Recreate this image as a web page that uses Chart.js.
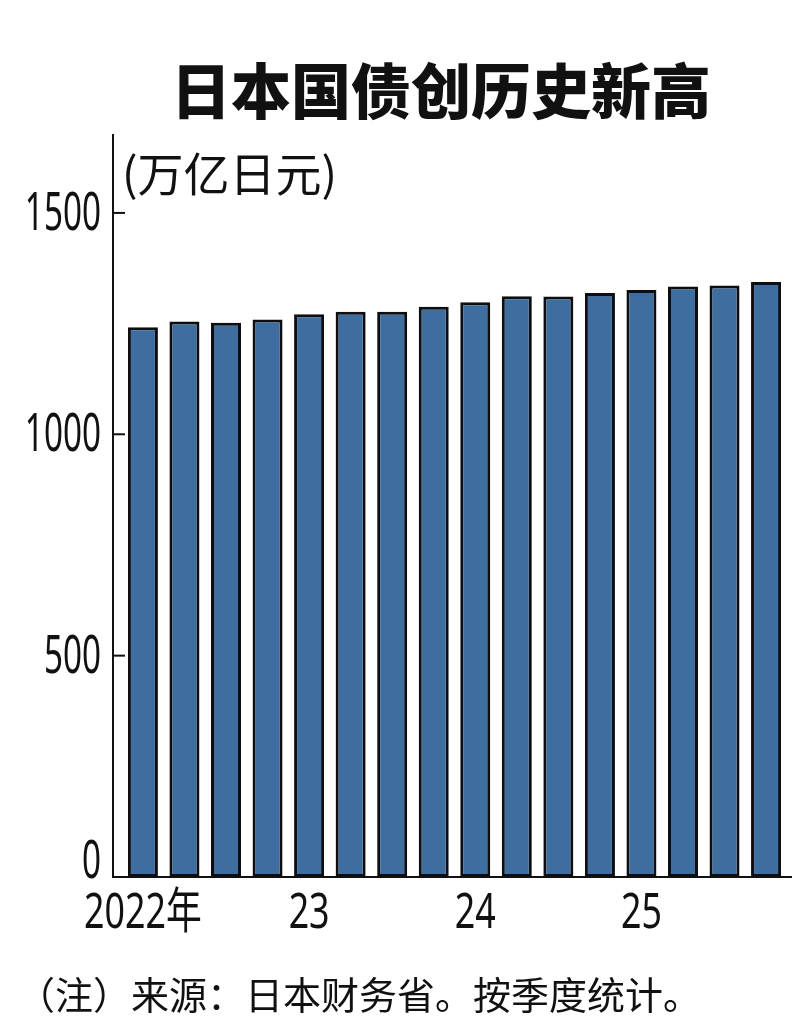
<!DOCTYPE html>
<html>
<head>
<meta charset="utf-8">
<script src="https://cdn.jsdelivr.net/npm/chart.js@4"></script>
<style>
  html, body { margin: 0; padding: 0; background: #fff; }
  body { width: 806px; height: 1024px; position: relative; overflow: hidden; font-family: "Noto Sans CJK SC", sans-serif; color: #111; }
  #grafico { position: absolute; left: 0; top: 0; }
  .texto { position: absolute; white-space: nowrap; }
  #titulo { left: 171px; top: 58px; font-size: 60px; line-height: 60px; font-weight: 900; }
  #unidade { left: 122px; top: 148px; font-size: 46px; line-height: 46px; }
  #nota { left: 17px; top: 974px; font-size: 38px; line-height: 38px; }
</style>
</head>
<body>
<canvas id="grafico" width="806" height="1024"></canvas>
<div class="texto" id="titulo">日本国债创历史新高</div>
<div class="texto" id="unidade">(万亿日元)</div>
<div class="texto" id="nota">（注）来源：日本财务省。按季度统计。</div>
<script>
// trimestres de 2022 a 2025
const trimestres = ["2022Q1", "2022Q2", "2022Q3", "2022Q4",
                    "2023Q1", "2023Q2", "2023Q3", "2023Q4",
                    "2024Q1", "2024Q2", "2024Q3", "2024Q4",
                    "2025Q1", "2025Q2", "2025Q3", "2025Q4"];
const divida = [1242, 1255, 1252, 1259, 1271, 1277, 1277, 1288,
                1298, 1312, 1311, 1319, 1326, 1334, 1336, 1344];
const rotulosX = ["2022年", "", "", "", "23", "", "", "", "24", "", "", "", "25", "", "", ""];
const ticksY = [0, 500, 1000, 1500];

const corTexto = "#111";

// desenha os rotulos dos eixos e os tracos internos do eixo Y
const rotulosPlugin = {
    id: "rotulos",
    afterDraw(chart) {
        const ctx = chart.ctx;
        const x = chart.scales.x;
        const y = chart.scales.y;
        const area = chart.chartArea;
        ctx.save();
        ctx.fillStyle = corTexto;
        ctx.strokeStyle = corTexto;
        ctx.lineWidth = 2;

        ticksY.forEach((v) => {
            const py = y.getPixelForValue(v);
            if (v > 0) {
                ctx.beginPath();
                ctx.moveTo(area.left, py);
                ctx.lineTo(area.left + 12, py);
                ctx.stroke();
            }
            ctx.save();
            ctx.font = '52px "Noto Sans"';
            ctx.textAlign = "right";
            ctx.textBaseline = "alphabetic";
            ctx.translate(101, py + (v === 0 ? 1 : 17));
            ctx.scale(0.64, 1);
            ctx.fillText(String(v), 0, 0);
            ctx.restore();
        });

        rotulosX.forEach((txt, i) => {
            if (!txt) return;
            const px = x.getPixelForValue(i);
            ctx.save();
            ctx.font = '49px "Noto Sans", "Noto Sans CJK SC"';
            ctx.textAlign = "center";
            ctx.textBaseline = "alphabetic";
            ctx.translate(px, 928);
            ctx.scale(0.73, 1);
            ctx.fillText(txt, 0, 0);
            ctx.restore();
        });
        ctx.restore();
    }
};

const ctx = document.getElementById("grafico").getContext("2d");
new Chart(ctx, {
    type: "bar",
    data: {
        labels: trimestres,
        datasets: [{
            label: "日本国债",
            data: divida.map((v, i) => ({ x: i, y: v })),
            backgroundColor: "#3d6e9f",
            borderColor: "#0d0d12",
            borderWidth: 3,
            borderSkipped: false,
            categoryPercentage: 1,
            barPercentage: 0.722
        }]
    },
    options: {
        responsive: false,
        animation: false,
        layout: { padding: { left: 0, top: 135, right: 15, bottom: 0 } },
        plugins: { legend: { display: false }, tooltip: { enabled: false } },
        scales: {
            x: {
                type: "linear",
                offset: false,
                min: -0.72,
                max: 15.6,
                afterFit: (s) => { s.height = 147; },
                ticks: { display: false },
                grid: { display: false, drawTicks: false, offset: false },
                border: { display: true, color: corTexto, width: 2 }
            },
            y: {
                min: 0,
                max: 1676,
                afterFit: (s) => { s.width = 113; },
                afterBuildTicks: (s) => { s.ticks = ticksY.map((v) => ({ value: v })); },
                ticks: { display: false },
                grid: { display: false, drawTicks: false },
                border: { display: true, color: corTexto, width: 2 }
            }
        }
    },
    plugins: [rotulosPlugin]
});
</script>
</body>
</html>
